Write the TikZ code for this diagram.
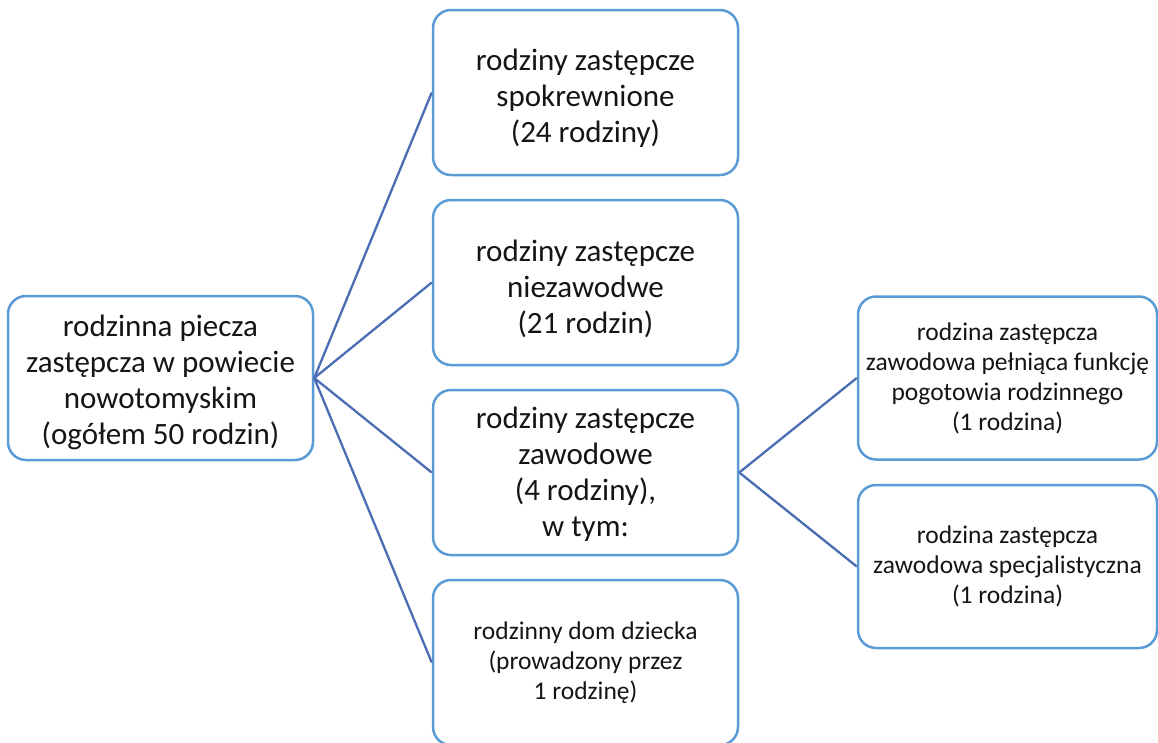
\documentclass[tikz,border=0pt]{standalone}
\usepackage{fontspec}
\setmainfont{Carlito}
\definecolor{boxblue}{HTML}{5B9BD5}
\definecolor{lineblue}{HTML}{4A6DB4}
\definecolor{textc}{HTML}{151515}
\newcommand{\boxtext}[2]{\parbox{290pt}{\vspace{#1}\centering #2}}
\begin{document}
\begin{tikzpicture}[x=1pt,y=-1pt,
  box/.style={draw=boxblue, line width=2.5pt, rounded corners=18pt, fill=white,
    align=center, inner sep=4pt, text=textc},
  bigtext/.style={font=\fontsize{31}{36}\selectfont},
  smalltext/.style={font=\fontsize{25.5}{30}\selectfont},
  conn/.style={draw=lineblue, line width=2.3pt}]
\useasboundingbox (0,0) rectangle (1158,742);
\node[box, bigtext, minimum width=305pt, minimum height=164pt] (root) at (160.5,378)
  {\boxtext{8pt}{rodzinna piecza\\zastępcza w powiecie\\nowotomyskim\\(ogółem 50 rodzin)}};
\node[box, bigtext, minimum width=305pt, minimum height=165pt] (b1) at (585.5,92.5)
  {\boxtext{12pt}{rodziny zastępcze\\spokrewnione\\(24 rodziny)}};
\node[box, bigtext, minimum width=305pt, minimum height=165pt] (b2) at (585.5,282.5)
  {\boxtext{12pt}{rodziny zastępcze\\niezawodwe\\(21 rodzin)}};
\node[box, bigtext, minimum width=305pt, minimum height=165pt] (b3) at (585.5,472.5)
  {\boxtext{3pt}{rodziny zastępcze\\zawodowe\\(4 rodziny),\\w tym:}};
\node[box, smalltext, minimum width=305pt, minimum height=165pt] (b4) at (585.5,662.5)
  {rodzinny dom dziecka\\(prowadzony przez\\1 rodzinę)};
\node[box, smalltext, minimum width=299pt, minimum height=163pt] (r1) at (1007.5,378)
  {rodzina zastępcza\\zawodowa pełniąca funkcję\\pogotowia rodzinnego\\(1 rodzina)};
\node[box, smalltext, minimum width=299pt, minimum height=163pt] (r2) at (1007.5,566.5)
  {rodzina zastępcza\\zawodowa specjalistyczna\\(1 rodzina)};
\foreach \t in {b1,b2,b3,b4}
  \draw[conn] (root.east) -- (\t.west);
\draw[conn] (b3.east) -- (r1.west);
\draw[conn] (b3.east) -- (r2.west);
\end{tikzpicture}
\end{document}
